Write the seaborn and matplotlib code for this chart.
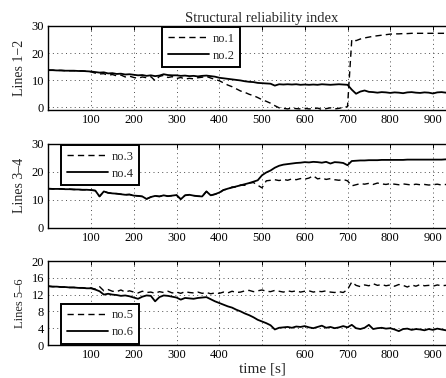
import numpy as np
import pandas as pd
import matplotlib
matplotlib.use("Agg")
import matplotlib.pyplot as plt
import seaborn as sns

time = np.arange(0, 1001, 10)

no1 = [13.7,13.7,13.6,13.6,13.5,13.5,13.5,13.4,13.4,13.3,
       13.1,12.6,12.3,12.4,11.8,12.1,11.6,11.9,11.2,11.5,
       11.0,10.7,11.2,10.9,11.3,9.8,11.4,11.8,11.0,11.3,
       10.6,11.0,10.4,10.7,10.5,10.9,11.1,11.4,10.8,10.3,
       9.8,9.0,8.2,7.6,6.8,6.0,5.5,4.8,4.3,3.6,
       2.8,2.2,1.5,0.6,-0.2,-0.4,-0.6,-0.3,-0.5,-0.6,
       -0.4,-0.6,-0.5,-0.3,-0.8,-0.5,-0.2,-0.6,-0.4,0.0,
       0.2,25.0,24.6,25.2,25.6,25.9,26.2,26.4,26.6,26.8,
       27.0,27.1,27.1,27.2,27.2,27.3,27.3,27.3,27.3,27.3,
       27.3,27.3,27.3,27.3,27.3,27.3,27.3,27.3,27.3,27.3,
       27.3]
no2 = [13.7,13.7,13.6,13.6,13.5,13.5,13.5,13.4,13.4,13.3,
       13.2,13.0,12.8,12.9,12.5,12.6,12.3,12.4,12.1,12.2,
       12.0,11.8,11.9,11.6,11.8,11.5,11.7,12.2,11.9,11.8,
       11.8,11.6,11.7,11.5,11.6,11.4,11.6,11.7,11.5,11.3,
       10.9,10.7,10.5,10.3,10.1,9.9,9.6,9.4,9.3,9.0,
       8.9,8.8,8.7,8.0,8.5,8.4,8.5,8.4,8.5,8.3,
       8.4,8.3,8.4,8.3,8.5,8.4,8.3,8.4,8.5,8.4,
       8.3,6.5,5.0,5.8,6.2,5.7,5.6,5.4,5.6,5.5,
       5.3,5.5,5.4,5.2,5.5,5.6,5.4,5.3,5.5,5.4,
       5.1,5.5,5.6,5.4,5.5,5.3,5.4,5.5,5.4,5.5,
       5.5]
no3 = [14.0,13.9,13.9,13.9,13.8,13.8,13.7,13.7,13.6,13.6,
       13.5,13.3,11.2,13.0,12.5,12.3,12.2,12.0,11.8,11.9,
       11.5,11.4,11.2,10.3,11.0,11.4,11.2,11.6,11.3,11.5,
       11.7,10.2,11.6,11.8,11.5,11.3,11.2,13.0,11.6,12.0,
       12.4,13.6,13.8,14.6,14.5,15.3,15.2,16.0,16.2,15.2,
       14.3,16.8,17.0,17.2,16.9,17.3,17.0,17.5,17.2,17.6,
       17.4,17.8,18.6,17.5,17.8,17.3,17.6,17.2,17.0,17.3,
       16.8,15.0,15.4,15.8,15.6,15.9,15.5,16.0,15.7,15.5,
       15.8,15.6,15.4,15.7,15.5,15.3,15.6,15.4,15.5,15.3,
       15.4,15.6,15.3,15.5,15.2,15.4,15.3,15.5,15.2,15.3,
       15.3]
no4 = [14.0,13.9,13.9,13.9,13.8,13.8,13.7,13.7,13.6,13.6,
       13.5,13.3,11.2,13.0,12.5,12.3,12.2,12.0,11.8,11.9,
       11.5,11.4,11.2,10.3,11.0,11.4,11.2,11.6,11.3,11.5,
       11.7,10.2,11.6,11.8,11.5,11.3,11.2,13.0,11.6,12.0,
       12.6,13.5,14.0,14.4,14.8,15.2,15.6,16.0,16.5,17.0,
       18.8,19.8,20.5,21.5,22.2,22.6,22.8,23.0,23.2,23.3,
       23.5,23.4,23.6,23.5,23.3,23.6,23.0,23.5,23.4,23.2,
       22.4,23.9,24.0,24.1,24.1,24.2,24.2,24.2,24.3,24.3,
       24.3,24.3,24.3,24.3,24.4,24.4,24.4,24.4,24.4,24.4,
       24.4,24.4,24.4,24.5,24.5,24.5,24.5,24.5,24.5,24.5,
       24.5]
no5 = [14.0,13.9,13.9,13.8,13.8,13.7,13.7,13.6,13.6,13.5,
       13.6,13.3,13.9,12.9,13.2,12.8,12.7,13.1,12.6,12.9,
       12.6,12.4,12.8,12.5,12.6,12.3,12.7,12.5,12.8,12.4,
       12.6,12.3,12.7,12.5,12.4,12.6,12.3,12.5,12.2,12.4,
       12.3,12.6,12.4,12.8,12.5,12.6,12.9,13.0,12.7,12.9,
       13.1,12.8,12.7,13.0,12.8,12.6,12.9,12.7,12.9,12.6,
       12.8,12.9,12.6,12.8,12.7,12.9,12.6,12.5,12.7,12.5,
       13.2,15.0,14.2,13.9,14.3,14.1,14.6,14.2,14.4,14.1,
       14.3,14.0,14.4,14.2,13.8,14.3,14.0,14.4,14.1,14.2,
       14.0,14.3,14.1,14.2,14.0,14.3,14.1,14.2,14.0,14.2,
       14.1]
no6 = [14.0,13.9,13.9,13.8,13.8,13.7,13.7,13.6,13.6,13.5,
       13.5,13.2,12.8,12.0,12.2,12.0,11.9,11.7,11.8,11.6,
       11.3,11.0,11.5,11.8,11.7,10.4,11.4,11.8,11.7,11.5,
       11.3,10.8,11.2,11.1,11.0,11.2,11.3,11.4,10.9,10.4,
       10.0,9.6,9.2,8.9,8.4,8.0,7.5,7.1,6.6,6.0,
       5.6,5.2,4.7,3.7,4.1,4.2,4.3,4.1,4.4,4.3,
       4.5,4.2,4.0,4.3,4.6,4.1,4.3,4.0,4.2,4.5,
       4.2,4.8,4.0,3.8,4.1,4.8,3.8,4.0,4.1,3.9,
       4.0,3.7,3.3,3.8,3.9,3.6,3.8,3.7,3.5,3.8,
       3.6,3.9,3.7,3.5,3.6,3.8,3.5,3.6,3.7,3.5,
       3.6]

xticks = [100, 200, 300, 400, 500, 600, 700, 800, 900]
ylabels = ["Lines 1\u22122", "Lines 3\u20134", "Lines 5\u20136"]
ylabel_sizes = [10, 10, 9]
yticks_list = [[0, 10, 20, 30], [0, 10, 20, 30], [0, 4, 8, 12, 16, 20]]
ylims = [(-1, 30), (0, 30), (0, 20)]
pairs = [("no.1", no1, "no.2", no2), ("no.3", no3, "no.4", no4), ("no.5", no5, "no.6", no6)]

sns.set_style("white")
plt.rcParams["font.family"] = ["Liberation Serif", "DejaVu Serif"]

W, H = 446, 378
fig = plt.figure(figsize=(W / 100, H / 100), dpi=100)

left = 48.25 / W
width = 427.5 / W
panels = [(26, 110), (144, 227.7), (261, 345)]
legend_anchor = [(162, 27, "upper left"), (61, 145, "upper left"), (61, 344, "lower left")]

for i, ((top, bot), (n1, d1, n2, d2)) in enumerate(zip(panels, pairs)):
    ax = fig.add_axes([left, 1 - bot / H, width, (bot - top) / H])
    df = pd.DataFrame({"time": time, "a": d1, "b": d2})
    sns.lineplot(data=df, x="time", y="a", ax=ax, color="k", lw=1.0,
                 linestyle=(0, (4.5, 3)), label=n1)
    sns.lineplot(data=df, x="time", y="b", ax=ax, color="k", lw=1.3,
                 label=n2)
    ax.set_xlim(0, 1000)
    ax.set_ylim(*ylims[i])
    ax.set_xticks(xticks)
    labels = [str(t) for t in xticks]
    if i == 2:
        labels[4] = ""
    ax.set_xticklabels(labels)
    ax.set_yticks(yticks_list[i])
    ax.tick_params(direction="in", top=True, right=True, labelsize=9,
                   length=3, width=0.7, pad=3, colors="k")
    ax.grid(True, linestyle=(0, (1, 3.5)), color="0.3", lw=0.7)
    for s in ax.spines.values():
        s.set_color("k")
        s.set_linewidth(1.0)
    ax.set_ylabel(ylabels[i], fontsize=ylabel_sizes[i])
    ax.yaxis.set_label_coords(-0.052, 0.5)
    ax.set_xlabel("")
    lx, ly, loc = legend_anchor[i]
    leg = ax.legend(loc=loc, bbox_to_anchor=(lx / W, 1 - ly / H),
                    bbox_transform=fig.transFigure, borderaxespad=0,
                    fontsize=9, frameon=True, fancybox=False,
                    handlelength=3.3, handletextpad=0.3, borderpad=0.45,
                    labelspacing=0.4)
    leg.get_frame().set_edgecolor("k")
    leg.get_frame().set_linewidth(1.4)
    leg.get_frame().set_alpha(1)
    if i == 0:
        ax.set_title("Structural reliability index", fontsize=10.5, pad=3)
    if i == 2:
        ax.set_xlabel("time [s]", fontsize=11, va="top")
        ax.xaxis.set_label_coords(0.5, -0.205)

fig.savefig("out.png", dpi=100)
